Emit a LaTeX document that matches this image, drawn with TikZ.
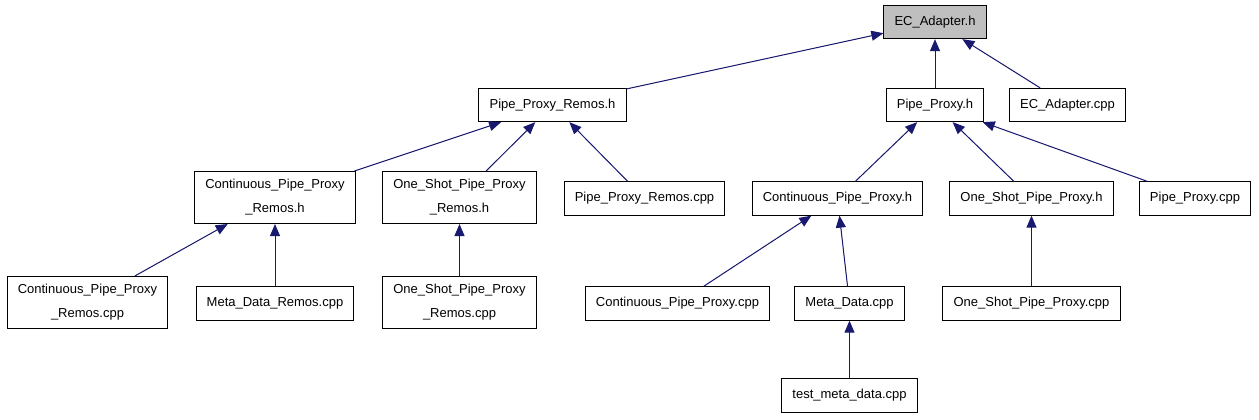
\documentclass[tikz,border=0pt]{standalone}
\usepackage{fontspec}
\setmainfont{Liberation Sans}
\usetikzlibrary{arrows.meta,positioning}

\definecolor{edgeblue}{HTML}{191970}
\definecolor{focusgray}{HTML}{BFBFBF}

\begin{document}
\begin{tikzpicture}[
    x=0.75pt, y=-0.75pt,
    file/.style={draw, line width=0.75pt, align=center, inner xsep=8pt, inner ysep=6pt, minimum height=25pt, font=\fontsize{9.75}{18}\selectfont, fill=white},
    focus/.style={file, fill=focusgray},
    incl/.style={-{Triangle[length=9pt, width=7.5pt]}, draw=edgeblue, fill=edgeblue, line width=0.75pt}
]
\useasboundingbox (0,0) rectangle (1259,419);
% top
\node[focus] (ecah) at (935,22) {EC\_Adapter.h};
% second row
\node[file] (ppremh) at (552.5,105) {Pipe\_Proxy\_Remos.h};
\node[file] (pph) at (935,105) {Pipe\_Proxy.h};
\node[file] (ecacpp) at (1067.5,105) {EC\_Adapter.cpp};
% third row
\node[file] (cpprh) at (275,197.5) {Continuous\_Pipe\_Proxy\\\_Remos.h};
\node[file] (ospprh) at (459.5,197.5) {One\_Shot\_Pipe\_Proxy\\\_Remos.h};
\node[file] (pprcpp) at (644.5,198.5) {Pipe\_Proxy\_Remos.cpp};
\node[file] (cpph) at (837.5,198.5) {Continuous\_Pipe\_Proxy.h};
\node[file] (ospph) at (1031.5,198.5) {One\_Shot\_Pipe\_Proxy.h};
\node[file] (ppcpp) at (1195,198.5) {Pipe\_Proxy.cpp};
% fourth row
\node[file] (cpprcpp) at (87.5,302.5) {Continuous\_Pipe\_Proxy\\\_Remos.cpp};
\node[file] (mdrcpp) at (275,303.5) {Meta\_Data\_Remos.cpp};
\node[file] (ospprcpp) at (459.5,302.5) {One\_Shot\_Pipe\_Proxy\\\_Remos.cpp};
\node[file] (cppcpp) at (677.5,303.5) {Continuous\_Pipe\_Proxy.cpp};
\node[file] (mdcpp) at (849.5,303.5) {Meta\_Data.cpp};
\node[file] (ospcpp) at (1031.5,303.5) {One\_Shot\_Pipe\_Proxy.cpp};
% bottom
\node[file] (tmd) at (849.5,395.5) {test\_meta\_data.cpp};

\draw[incl] (ppremh) -- (ecah);
\draw[incl] (pph) -- (ecah);
\draw[incl] (ecacpp) -- (ecah);
\draw[incl] (cpprh) -- (ppremh);
\draw[incl] (ospprh) -- (ppremh);
\draw[incl] (pprcpp) -- (ppremh);
\draw[incl] (cpph) -- (pph);
\draw[incl] (ospph) -- (pph);
\draw[incl] (ppcpp) -- (pph);
\draw[incl] (cpprcpp) -- (cpprh);
\draw[incl] (mdrcpp) -- (cpprh);
\draw[incl] (ospprcpp) -- (ospprh);
\draw[incl] (cppcpp) -- (cpph);
\draw[incl] (mdcpp) -- (cpph);
\draw[incl] (ospcpp) -- (ospph);
\draw[incl] (tmd) -- (mdcpp);
\end{tikzpicture}
\end{document}
